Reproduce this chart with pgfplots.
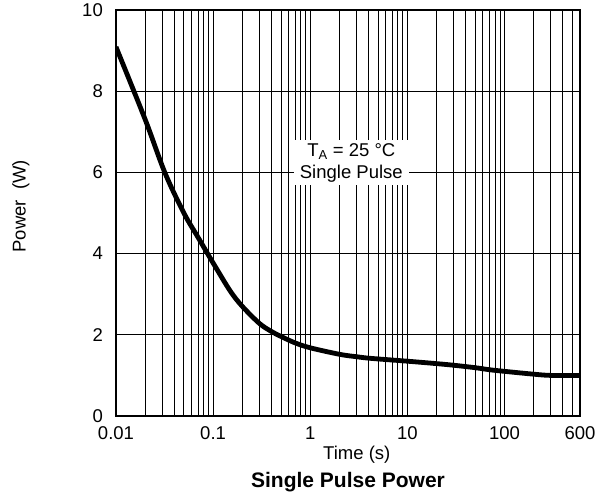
\documentclass[border=0pt]{standalone}
\usepackage{pgfplots}
\pgfplotsset{compat=1.18}
\usepackage{fontspec}
\setmainfont{Liberation Sans}
\begin{document}
\begin{tikzpicture}
\begin{axis}[
  scale only axis,
  width=464pt, height=406pt,
  xmode=log,
  xmin=0.01, xmax=600,
  ymin=0, ymax=10,
  xtick={0.01,0.1,1,10,100,600},
  xticklabels={0.01,0.1,1,10,100,600},
  minor xtick={0.02,0.03,0.04,0.05,0.06,0.07,0.08,0.09,0.2,0.3,0.4,0.5,0.6,0.7,0.8,0.9,2,3,4,5,6,7,8,9,20,30,40,50,60,70,80,90,200,300,400,500},
  ytick={0,2,4,6,8,10},
  xmajorgrids, xminorgrids, ymajorgrids,
  grid style={black, line width=0.9pt},
  minor grid style={black, line width=0.9pt},
  major tick length=0pt, minor tick length=0pt,
  axis line style={black, line width=1.6pt},
  /pgf/number format/assume math mode=true,
  tick label style={font=\fontsize{18.5}{22}\selectfont, inner sep=0pt},
  xticklabel style={anchor=north, text height=13.3pt, text depth=0pt},
  yticklabel shift=13pt,
  xticklabel shift=10pt,
  xlabel={Time (s)},
  ylabel={Power\ \ (W)},
  label style={font=\fontsize{18.5}{22}\selectfont},
  xlabel style={at={(axis description cs:0.519,-0.096)}, anchor=center},
  ylabel style={at={(axis description cs:-0.205,0.517)}, anchor=center},
  clip mode=individual,
]
\addplot[black, line width=4.8pt, smooth, tension=0.55, line join=round, line cap=butt] coordinates {
  (0.01,9.09) (0.02,7.3) (0.0318,6.0) (0.05,5.0) (0.07,4.4) (0.1,3.77)
  (0.15,3.08) (0.2,2.7) (0.3,2.28) (0.4,2.08) (0.5,1.96) (0.7,1.8) (1,1.68) (2,1.52) (3,1.46) (4.2,1.42)
  (10,1.35) (20,1.29) (30,1.25) (50,1.19) (70,1.14) (100,1.1) (200,1.03) (300,1.0) (600,1.0)
};
\node[fill=white, align=center, inner xsep=6pt, inner ysep=3pt, font=\fontsize{18.5}{22}\selectfont]
  at (axis cs:2.65,6.24) {T\textsubscript{A} = 25 °C\\Single Pulse};
\end{axis}
\node[font=\fontsize{21}{25}\selectfont\bfseries, anchor=center]
  at ([yshift=-66pt]current axis.south) {Single Pulse Power};
\path ([yshift=10pt]current axis.north) ([yshift=-83pt]current axis.south)
      ([xshift=-116pt]current axis.west) ([xshift=28pt]current axis.east);
\end{tikzpicture}
\end{document}
